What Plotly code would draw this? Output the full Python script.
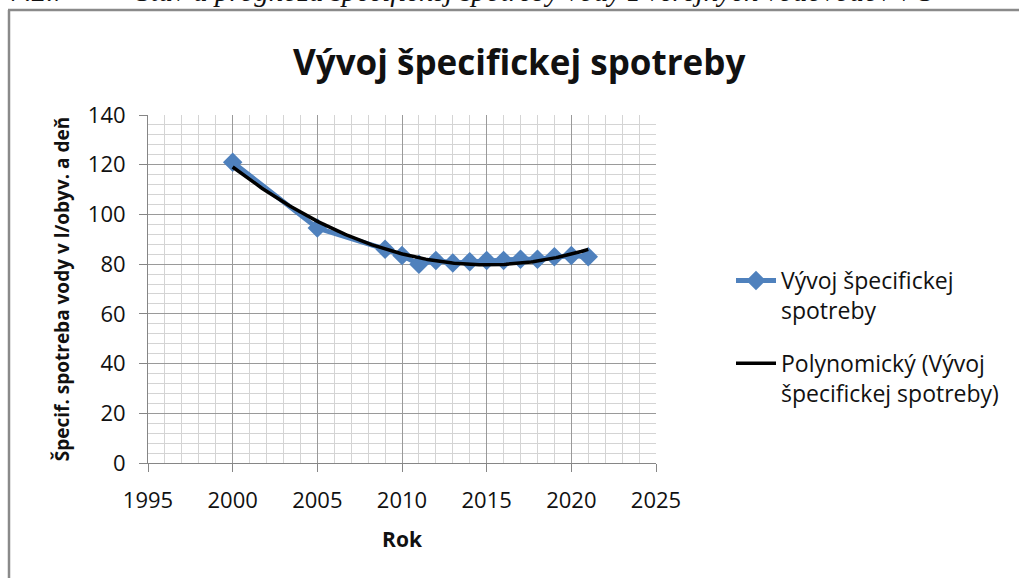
import numpy as np
import plotly.graph_objects as go

# data
years = [2000, 2005, 2009, 2010, 2011, 2012, 2013, 2014, 2015, 2016, 2017, 2018, 2019, 2020, 2021]
consumption = [121, 94.5, 86, 83.5, 80, 81.5, 80.5, 81, 81.5, 81.5, 82, 82, 83, 83.5, 83]

series_name = "Vývoj špecifickej<br>spotreby"
trend_name = "Polynomický (Vývoj<br>špecifickej spotreby)"
chart_title = "Vývoj špecifickej spotreby"
x_title = "Rok"
y_title = "Špecif. spotreba vody v l/obyv. a deň"
heading_num = "7.2.7"
heading_text = "Stav a prognóza špecifickej spotreby vody z verejných vodovodov v S"

# plot area in pixels (1019 x 578 page)
W, H = 1019, 578
L, R, T, B = 148, 656, 115, 463


def px(x):
    return (x - L) / (R - L)


def py(y):
    return (B - y) / (B - T)


# 2nd order polynomial trend, like the Excel trendline
coef = np.polyfit(years, consumption, 2)
trend_x = np.linspace(years[0], years[-1], 200)
trend_y = np.polyval(coef, trend_x)

font = "Open Sans, Lato, sans-serif"
serif = "Liberation Serif, Times New Roman, serif"
blue = "#4f81bd"

fig = go.Figure()
fig.add_trace(go.Scatter(
    x=years, y=consumption, mode="lines+markers", name=series_name,
    legendgroup="a",
    line=dict(color=blue, width=5),
    marker=dict(symbol="diamond", size=15, color=blue),
))
fig.add_trace(go.Scatter(
    x=trend_x, y=trend_y, mode="lines", name=trend_name,
    legendgroup="b",
    line=dict(color="black", width=3.5),
))

axis_common = dict(
    showline=True, linecolor="#868686", linewidth=1,
    ticks="outside", ticklen=8, tickcolor="#868686",
    showgrid=True, gridcolor="#9a9a9a", gridwidth=1,
    tickfont=dict(family=font, size=22, color="#111"),
    zeroline=False, mirror=False,
)

fig.update_xaxes(
    range=[1995, 2025], dtick=5, tick0=1995,
    minor=dict(dtick=1, showgrid=True, gridcolor="#d4d4d4", ticks=""),
    title=dict(text=f"<b>{x_title}</b>", font=dict(family=font, size=21, color="#111"), standoff=18),
    ticklabelstandoff=10,
    **axis_common,
)
fig.update_yaxes(
    range=[0, 140], dtick=20,
    minor=dict(dtick=4, showgrid=True, gridcolor="#d4d4d4", ticks=""),
    title=dict(text=f"<b>{y_title}</b>", font=dict(family=font, size=19, color="#111"), standoff=13),
    ticklabelstandoff=9,
    **axis_common,
)

fig.update_layout(
    width=W, height=H,
    margin=dict(l=L, r=W - R, t=T, b=H - B, autoexpand=False),
    paper_bgcolor="white", plot_bgcolor="white",
    showlegend=True,
    legend=dict(
        x=px(731), y=py(259), xanchor="left", yanchor="top",
        font=dict(family=font, size=23, color="#111"),
        valign="top", tracegroupgap=20, itemwidth=40,
        bgcolor="rgba(0,0,0,0)",
    ),
    annotations=[
        dict(text=f"<b>{chart_title}</b>", x=px(519), y=py(61), xref="paper", yref="paper",
             xanchor="center", yanchor="middle",
             showarrow=False, font=dict(family=font, size=35, color="#111")),
        dict(text=f"<i>{heading_num}</i>", x=px(8), y=py(-9), xref="paper", yref="paper",
             xanchor="left", yanchor="middle", showarrow=False,
             font=dict(family=serif, size=29, color="#111")),
        dict(text=f"<i>{heading_text}</i>", x=px(134), y=py(-9), xref="paper", yref="paper",
             xanchor="left", yanchor="middle", showarrow=False,
             font=dict(family=serif, size=29, color="#111")),
    ],
    shapes=[
        dict(type="line", xref="paper", yref="paper", x0=px(9), x1=px(9), y0=py(H + 5), y1=py(10),
             line=dict(color="#8a8a8a", width=2.5)),
        dict(type="line", xref="paper", yref="paper", x0=px(8), x1=px(W + 5), y0=py(10), y1=py(10),
             line=dict(color="#8a8a8a", width=2.5)),
    ],
)

# page without the default body margin so the figure sits at the top-left corner
fig.write_html("out.html", config={"displayModeBar": False},
               post_script="document.body.style.margin='0';")
